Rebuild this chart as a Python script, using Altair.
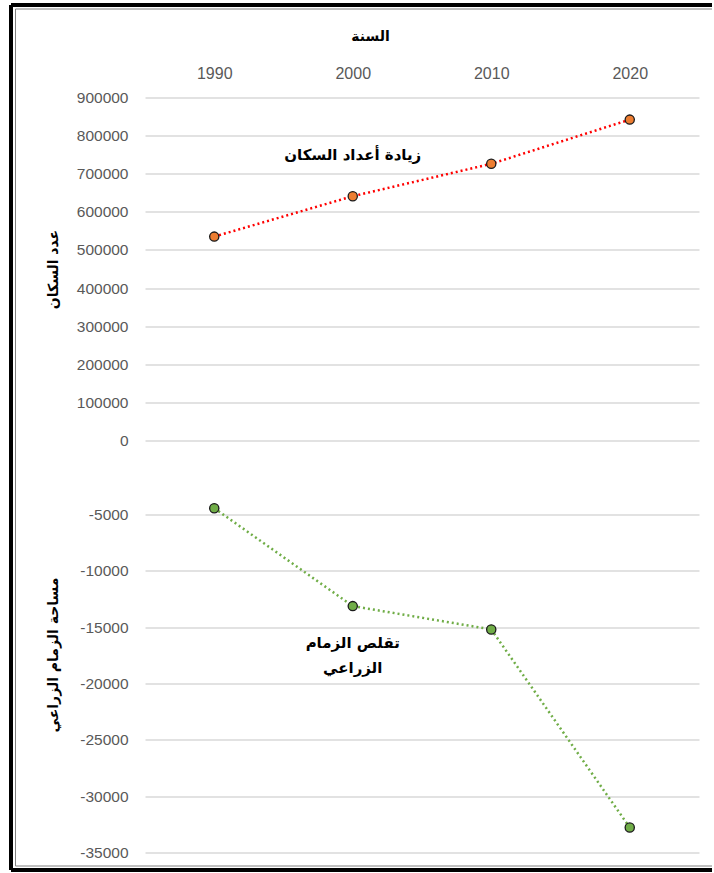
import altair as alt
import pandas as pd

# ---- data ----
years = ["1990", "2000", "2010", "2020"]
population = [535000, 641000, 726000, 842000]
agri_area = [-4440, -13130, -15200, -32780]

pop_ticks = list(range(0, 900001, 100000))
area_ticks = list(range(-35000, -4999, 5000))

x_title = "السنة"
pop_title = "عدد السكان"
area_title = "مساحة الزمام الزراعي"
pop_note = "زيادة أعداد السكان"
area_note = "تقلص الزمام\nالزراعي"

# ---- style ----
W = 554
H1 = 343
H2 = 338
GRAY = "#595959"
GRID = "#d9d9d9"
NUM_FONT = "Liberation Sans"
AR_FONT = "DejaVu Sans"

pop_df = pd.DataFrame({"year": years, "value": population})
area_df = pd.DataFrame({"year": years, "value": agri_area})
one = pd.DataFrame({"k": [0]})

xscale = alt.Scale(type="point", padding=0.5, domain=years)

x_top = alt.X(
    "year:O", scale=xscale, sort=years,
    axis=alt.Axis(
        orient="top", title=x_title, labelAngle=0, labelFont=NUM_FONT,
        labelFontSize=16, labelColor=GRAY, labelPadding=24,
        labelBaseline="middle", ticks=False, tickSize=0, domain=False,
        grid=False, titleX=225, titleY=-61, titleFont=AR_FONT,
        titleFontSize=14, titleFontWeight="bold", titleColor="black",
        titleBaseline="middle",
    ),
)
x_plain = alt.X("year:O", scale=xscale, sort=years, axis=None)


def y_axis(title, ticks, title_y):
    return alt.Axis(
        values=ticks, tickCount=len(ticks) + 5, labelExpr="'' + datum.value",
        title=title, grid=True, gridColor=GRID, labelOverlap=False,
        gridWidth=1.5, domain=False, ticks=False, tickSize=0,
        labelPadding=17, labelFont=NUM_FONT, labelFontSize=15.5,
        labelColor=GRAY, titleX=-92, titleY=title_y, titleAngle=-90,
        titleBaseline="middle", titleAlign="center", titleFont=AR_FONT,
        titleFontSize=14, titleFontWeight="bold", titleColor="black",
    )


y_pop = alt.Y("value:Q", scale=alt.Scale(domain=[0, 900000], nice=False, zero=False),
              axis=y_axis(pop_title, pop_ticks, H1 / 2))
y_area = alt.Y("value:Q", scale=alt.Scale(domain=[-35000, -5000], nice=False, zero=False),
               axis=y_axis(area_title, area_ticks, 140))

# ---- top panel: population ----
pop_line = alt.Chart(pop_df).mark_line(
    color="#FF0000", strokeDash=[2, 3], strokeWidth=2.5
).encode(x=x_top, y=y_pop)
pop_pts = alt.Chart(pop_df).mark_circle(
    size=85, color="#ED7D31", stroke="#1a1a1a", strokeWidth=1.3, opacity=1
).encode(x=x_top, y=y_pop)
pop_txt = alt.Chart(one).mark_text(
    font=AR_FONT, fontSize=15, fontWeight="bold", color="black",
    align="center", baseline="middle"
).encode(x=alt.datum("2000"), y=alt.datum(748000), text=alt.value(pop_note))

# decorative double frame (pixel offsets from the top panel origin)
thick = dict(color="black", strokeWidth=4)
thin = dict(color="#808080", strokeWidth=1)
frame = [
    alt.Chart(one).mark_rule(**thick).encode(
        x=alt.value(-134), x2=alt.value(W + 13), y=alt.value(-92.5)),
    alt.Chart(one).mark_rule(**thick).encode(
        x=alt.value(-134), y=alt.value(-92.5), y2=alt.value(772.5)),
    alt.Chart(one).mark_rule(**thick).encode(
        x=alt.value(-134), x2=alt.value(W + 13), y=alt.value(772.5)),
    alt.Chart(one).mark_rule(**thin).encode(
        x=alt.value(-129.5), x2=alt.value(W + 13), y=alt.value(-88.5)),
    alt.Chart(one).mark_rule(**thin).encode(
        x=alt.value(-129.5), y=alt.value(-88.5), y2=alt.value(768.5)),
    alt.Chart(one).mark_rule(**thin).encode(
        x=alt.value(-129.5), x2=alt.value(W + 13), y=alt.value(768.5)),
]

top = alt.layer(pop_line, pop_pts, pop_txt, *frame).properties(width=W, height=H1)

# ---- bottom panel: agricultural area ----
area_line = alt.Chart(area_df).mark_line(
    color="#70AD47", strokeDash=[2, 3], strokeWidth=2.5
).encode(x=x_plain, y=y_area)
area_pts = alt.Chart(area_df).mark_circle(
    size=85, color="#70AD47", stroke="#1a1a1a", strokeWidth=1.3, opacity=1
).encode(x=x_plain, y=y_area)
area_txt = alt.Chart(one).mark_text(
    font=AR_FONT, fontSize=15, fontWeight="bold", color="black",
    align="center", baseline="middle", lineBreak="\n", lineHeight=25
).encode(x=alt.datum("2000"), y=alt.datum(-16410), text=alt.value(area_note))

bottom = alt.layer(area_line, area_pts, area_txt).properties(width=W, height=H2)

chart = alt.vconcat(top, bottom, spacing=74, bounds="flush").properties(
    padding={"left": 9, "top": 2.5, "right": 0, "bottom": 0},
    background="white",
).configure_view(stroke=None)

chart.save("out.html", embed_options={"renderer": "svg", "actions": False})
